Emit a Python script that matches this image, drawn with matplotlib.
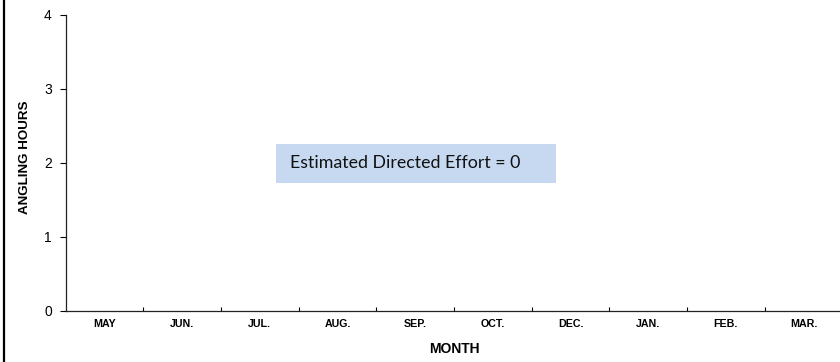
import numpy as np
import matplotlib
matplotlib.use('Agg')
import matplotlib.pyplot as plt
from matplotlib.patches import Rectangle
from matplotlib.lines import Line2D

months = ['MAY', 'JUN.', 'JUL.', 'AUG.', 'SEP.', 'OCT.', 'DEC.', 'JAN.', 'FEB.', 'MAR.']
angling_hours = [0, 0, 0, 0, 0, 0, 0, 0, 0, 0]
yticks = [0, 1, 2, 3, 4]
note = 'Estimated Directed Effort = 0'

plt.rcParams['font.family'] = 'Liberation Sans'

fig = plt.figure(figsize=(8.4, 3.62), dpi=100)
ax = fig.add_axes([0.0782, 0.1417, 0.9246, 0.8169])

x = np.arange(len(months))
ax.bar(x, angling_hours, width=0.6, color='#4F81BD')

ax.set_xlim(-0.5, len(months) - 0.5)
ax.set_ylim(0, 4)
ax.set_yticks(yticks)
ax.set_yticklabels([str(t) for t in yticks], fontsize=10)

ax.set_xticks(x)
ax.set_xticklabels(months, fontsize=7.7, fontweight='bold')
ax.set_xticks(np.arange(len(months)) + 0.5, minor=True)
ax.tick_params(axis='x', which='major', length=0, pad=6)
ax.tick_params(axis='x', which='minor', direction='in', length=3, width=0.8)
ax.tick_params(axis='y', direction='out', length=4, width=0.8, pad=6)

for s in ['top', 'right']:
    ax.spines[s].set_visible(False)
for s in ['left', 'bottom']:
    ax.spines[s].set_linewidth(0.9)
    ax.spines[s].set_color('#222222')

ax.set_ylabel('ANGLING HOURS', fontsize=9.6, fontweight='bold')
ax.yaxis.set_label_coords(-0.045, 0.52)
ax.set_xlabel('MONTH', fontsize=10, fontweight='bold', labelpad=9)

# note box
ax.add_patch(Rectangle((0.2708, 1.731 / 4), 0.3605, (2.255 - 1.731) / 4,
                       transform=ax.transAxes, facecolor='#C6D9F1',
                       edgecolor='none', zorder=3))
ax.text(0.2887, 2.0 / 4, note, transform=ax.transAxes, fontsize=12.8,
        family='Lato', va='center', ha='left', color='#111111', zorder=4)

# left frame line
fig.add_artist(Line2D([3.5 / 840, 3.5 / 840], [0, 1], color='black', linewidth=1.6))

fig.savefig('out.png', dpi=100)
